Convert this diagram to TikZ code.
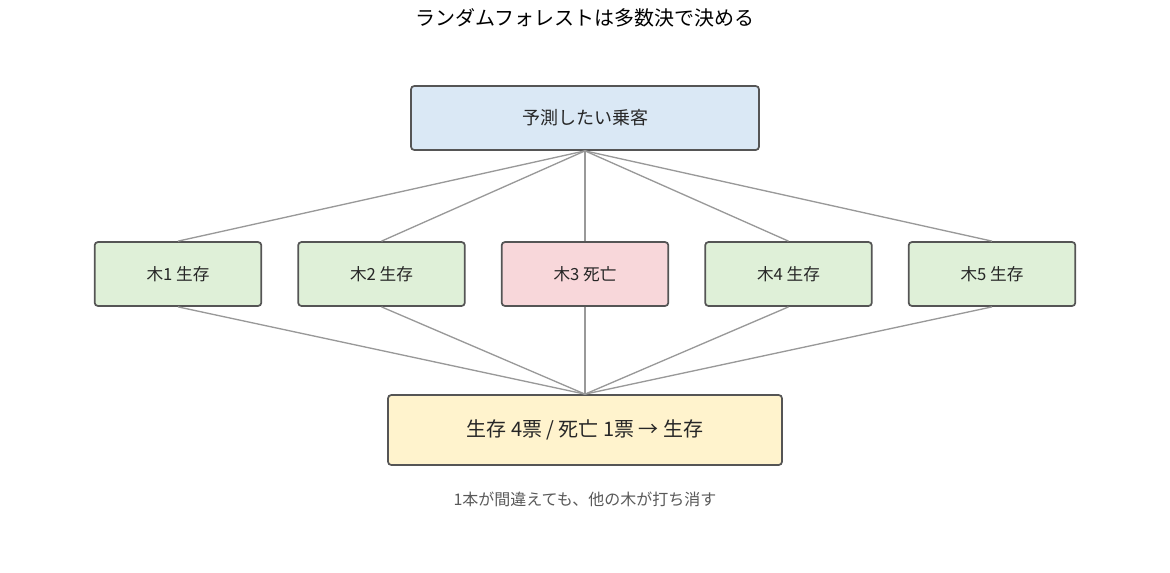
\documentclass[tikz,border=0pt]{standalone}
\usepackage{fontspec}
\setmainfont{Noto Sans CJK JP}
\definecolor{bd}{HTML}{555555}
\definecolor{ln}{HTML}{999999}
\definecolor{cb}{HTML}{DAE8F5}
\definecolor{cg}{HTML}{DFF0D8}
\definecolor{cr}{HTML}{F8D7DA}
\definecolor{cy}{HTML}{FFF3CD}
\begin{document}
\begin{tikzpicture}[x=0.75pt,y=-0.75pt,
 box/.style={draw=bd,line width=1.3pt,rounded corners=2.5pt,font=\fontsize{13.5}{16}\selectfont,text=black!85,inner sep=0pt},
 tree/.style={box,minimum width=125pt,minimum height=48pt,font=\fontsize{12.5}{15}\selectfont},
 con/.style={draw=ln,line width=1pt}]
\useasboundingbox (0,0) rectangle (1170,572);
\node[font=\fontsize{15}{18}\selectfont] (title) at (585,18) {ランダムフォレストは多数決で決める};
\node[box,fill=cb,minimum width=261pt,minimum height=48pt] (top) at (585,118) {予測したい乗客};
\node[tree,fill=cg] (t1) at (178,274) {木1 生存};
\node[tree,fill=cg] (t2) at (381.5,274) {木2 生存};
\node[tree,fill=cr] (t3) at (585,274) {木3 死亡};
\node[tree,fill=cg] (t4) at (788.5,274) {木4 生存};
\node[tree,fill=cg] (t5) at (992,274) {木5 生存};
\node[box,fill=cy,minimum width=295.5pt,minimum height=52.5pt,font=\fontsize{15}{18}\selectfont] (bot) at (585,430) {生存 4票 / 死亡 1票 → 生存};
\node[font=\fontsize{12}{14}\selectfont,text=black!65] (cap) at (585,499) {1本が間違えても、他の木が打ち消す};
\foreach \t in {t1,t2,t3,t4,t5}{
 \draw[con] (top.south) -- (\t.north);
 \draw[con] (\t.south) -- (bot.north);
}
\end{tikzpicture}
\end{document}
